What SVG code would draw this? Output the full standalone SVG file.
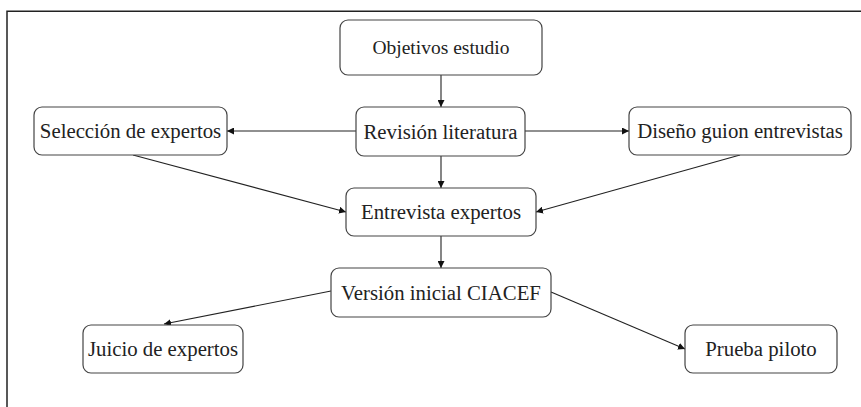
<svg xmlns="http://www.w3.org/2000/svg" width="861" height="407" viewBox="0 0 861 407">
<defs>
<marker id="ah" viewBox="0 0 10 10" refX="10" refY="5" markerWidth="7" markerHeight="7" markerUnits="userSpaceOnUse" orient="auto">
<path d="M0,0 L10,5 L0,10 z" fill="#111"/>
</marker>
<style>
.box{fill:#fff;stroke:#444;stroke-width:1.2}
.t{font-family:'Liberation Serif','Times New Roman',serif;font-size:20.8px;fill:#222;text-anchor:middle}
.c{stroke:#222;stroke-width:1.1;fill:none;marker-end:url(#ah)}
.frame{stroke:#222;stroke-width:1.5;fill:none}
</style>
</defs>
<rect width="861" height="407" fill="#fff"/>
<path class="frame" d="M7,407 V11.3 H861"/>
<g id="connectors">
<line class="c" x1="441" y1="75" x2="441" y2="107"/>
<line class="c" x1="356" y1="131" x2="227" y2="131"/>
<line class="c" x1="525" y1="131" x2="629" y2="131"/>
<line class="c" x1="441" y1="156" x2="441" y2="188"/>
<line class="c" x1="133" y1="155" x2="346" y2="212"/>
<line class="c" x1="740" y1="155" x2="536" y2="212"/>
<line class="c" x1="441" y1="236" x2="441" y2="268"/>
<line class="c" x1="331" y1="291" x2="164" y2="324"/>
<line class="c" x1="551" y1="292" x2="685" y2="349"/>
</g>
<g id="n-objetivos"><rect class="box" x="340" y="20" width="202" height="55" rx="8"/><text class="t" x="441" y="54" style="font-size:19.5px">Objetivos estudio</text></g>
<g id="n-revision"><rect class="box" x="356" y="107" width="169" height="49" rx="8"/><text class="t" x="440.5" y="138.5">Revisión literatura</text></g>
<g id="n-seleccion"><rect class="box" x="34" y="107" width="193" height="48" rx="8"/><text class="t" x="130.5" y="138">Selección de expertos</text></g>
<g id="n-diseno"><rect class="box" x="629" y="107" width="222" height="48" rx="8"/><text class="t" x="740" y="138">Diseño guion entrevistas</text></g>
<g id="n-entrevista"><rect class="box" x="346" y="188" width="190" height="48" rx="8"/><text class="t" x="441" y="219">Entrevista expertos</text></g>
<g id="n-version"><rect class="box" x="331" y="268" width="220" height="49" rx="8"/><text class="t" x="441" y="299.5">Versión inicial CIACEF</text></g>
<g id="n-juicio"><rect class="box" x="83" y="325" width="160" height="48" rx="8"/><text class="t" x="163" y="356">Juicio de expertos</text></g>
<g id="n-prueba"><rect class="box" x="685" y="325" width="152" height="48" rx="8"/><text class="t" x="761" y="356">Prueba piloto</text></g>
</svg>
